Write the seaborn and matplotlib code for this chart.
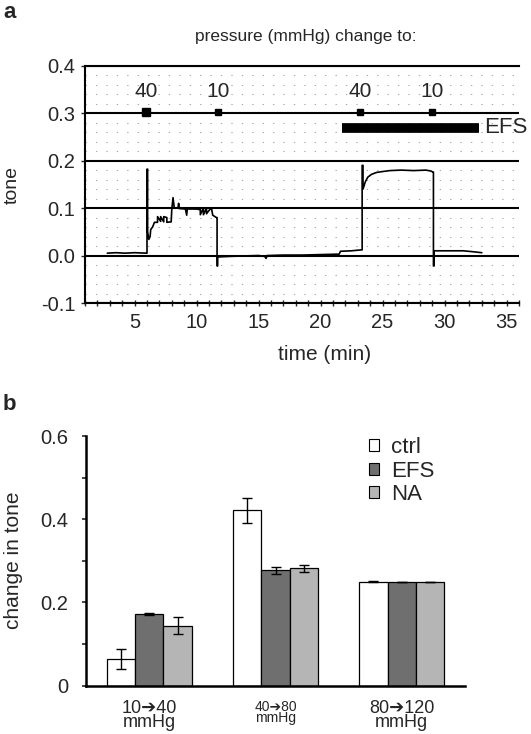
import numpy as np
import pandas as pd
import seaborn as sns
import matplotlib
matplotlib.use("Agg")
import matplotlib.pyplot as plt
from matplotlib.ticker import MultipleLocator, FixedLocator

# ---- panel a: tone trace ----
trace_time = [2.8, 3.5, 4.2, 5.0, 5.95, 6.0, 6.0, 6.05, 6.05, 6.15, 6.25, 6.3, 6.45, 6.6,
              6.85, 6.85, 7.1, 7.1, 7.35, 7.35, 7.6, 7.6,
              7.95, 8.0, 8.1, 8.2, 8.5, 8.55, 8.6, 9.1, 9.2, 9.25, 10.0, 10.2,
              10.3, 10.3, 10.55, 10.55, 10.8, 10.8, 11.0, 11.2, 11.3,
              11.6, 11.65, 11.65, 11.7, 11.7, 12.5, 13.5, 15.0, 15.5, 15.6, 15.7, 17.0, 18.5,
              20.0, 21.5, 21.6, 22.5, 23.3, 23.35, 23.35, 23.42, 23.42, 23.6, 23.8, 24.1, 24.5,
              25.0, 25.6, 26.5, 27.5, 28.5, 28.9, 29.05, 29.1, 29.1, 29.15, 29.15, 30.0, 31.5,
              32.3, 33.0]
trace_tone = [0.005, 0.006, 0.005, 0.006, 0.005, 0.005, 0.182, 0.182, 0.05, 0.034, 0.040, 0.055, 0.060, 0.070,
              0.070, 0.082, 0.072, 0.082, 0.071, 0.082, 0.080, 0.070,
              0.071, 0.098, 0.122, 0.100, 0.100, 0.110, 0.099, 0.098, 0.085, 0.098, 0.098, 0.097,
              0.100, 0.086, 0.100, 0.086, 0.100, 0.088, 0.095, 0.100, 0.085,
              0.080, 0.080, -0.022, -0.022, -0.003, -0.002, -0.001, 0.000, -0.002, -0.006, 0.000, 0.001, 0.001,
              0.002, 0.003, 0.009, 0.010, 0.012, 0.012, 0.190, 0.190, 0.140, 0.155, 0.165, 0.171, 0.175,
              0.177, 0.179, 0.180, 0.179, 0.180, 0.178, 0.176, 0.176, -0.022, -0.022, 0.010, 0.010, 0.010,
              0.008, 0.006]

pressure_time = [5.9, 11.7, 23.2, 29.0]
pressure_label = ["40", "10", "40", "10"]
pressure_marker_size = [5.5, 4, 4, 4]
efs_start, efs_end = 21.7, 32.8

# ---- panel b: bars ----
groups = ["10\u279440\nmmHg", "40\u279480\nmmHg", "80\u2794120\nmmHg"]
conditions = ["ctrl", "EFS", "NA"]
ctrl_vals = [0.064, 0.422, 0.250]
efs_vals = [0.173, 0.277, 0.250]
na_vals = [0.144, 0.282, 0.250]
ctrl_err = [0.023, 0.030, 0.001]
efs_err = [0.002, 0.008, 0.0]
na_err = [0.020, 0.008, 0.0]

sns.set_style("white")
plt.rcParams["font.family"] = ["Liberation Sans", "DejaVu Sans"]

fig = plt.figure(figsize=(5.31, 7.34), dpi=100)
W, H = 531, 734
ax_a = fig.add_axes([85 / W, 1 - 303 / H, (519 - 85) / W, (303 - 65.7) / H])
ax_b = fig.add_axes([86 / W, 1 - 685.7 / H, (465 - 86) / W, (685.7 - 436) / H])

# panel a
ax_a.set_xlim(1, 36)
ax_a.set_ylim(-0.1, 0.4)
ax_a.yaxis.set_major_locator(MultipleLocator(0.1))
ax_a.yaxis.set_minor_locator(MultipleLocator(0.02))
ax_a.xaxis.set_major_locator(MultipleLocator(5))
ax_a.xaxis.set_minor_locator(MultipleLocator(1))
ax_a.grid(which="minor", axis="y", color="#a8a8a8", linestyle=(0, (1.3, 8.7)), linewidth=0.75)
ax_a.grid(which="major", axis="y", color="black", linewidth=1.5)
ax_a.set_axisbelow(True)

sns.lineplot(x=trace_time, y=trace_tone, estimator=None, sort=False, color="black",
             linewidth=1.2, ax=ax_a)

for t, lab, ms in zip(pressure_time, pressure_label, pressure_marker_size):
    ax_a.plot(t, 0.302, marker="s", color="black", markersize=ms, linestyle="none", clip_on=False)
    ax_a.text(t, 0.345, lab, ha="center", va="center", fontsize=15)
ax_a.plot([efs_start, efs_end], [0.269, 0.269], color="black", linewidth=7, solid_capstyle="butt")
ax_a.text(efs_end + 0.4, 0.269, "EFS", ha="left", va="center", fontsize=16)

ax_a.spines["right"].set_visible(False)
for s in ["top", "left", "bottom"]:
    ax_a.spines[s].set_linewidth(1.5)
    ax_a.spines[s].set_color("black")
ax_a.tick_params(axis="x", which="both", direction="inout", length=5, width=1, labelsize=14.5,
                 bottom=True, pad=5)
ax_a.tick_params(axis="y", which="major", direction="out", length=3, width=1, labelsize=14.5,
                 left=True, pad=4)
ax_a.tick_params(axis="y", which="minor", left=False)
ax_a.set_yticks([0.4, 0.3, 0.2, 0.1, 0.0, -0.1])
ax_a.set_yticklabels(["0.4", "0.3", "0.2", "0.1", "0.0", "-0.1"])
ax_a.set_xlabel("")
ax_a.set_ylabel("")
fig.text(12 / W, 1 - 185 / H, "tone", rotation=90, ha="center", va="center", fontsize=14)
fig.text(325 / W, 1 - 355 / H, "time (min)", ha="center", va="center", fontsize=15)
fig.text(306 / W, 1 - 36 / H, "pressure (mmHg) change to:", ha="center", va="center", fontsize=12.5)
fig.text(3 / W, 1 - 12 / H, "a", ha="left", va="center", fontsize=16, fontweight="bold")
fig.text(3 / W, 1 - 404 / H, "b", ha="left", va="center", fontsize=16, fontweight="bold")

# panel b
df = pd.DataFrame({
    "group": groups * 3,
    "condition": [c for c in conditions for _ in groups],
    "value": ctrl_vals + efs_vals + na_vals,
})
errs = {"ctrl": ctrl_err, "EFS": efs_err, "NA": na_err}
palette = {"ctrl": "white", "EFS": "#6f6f6f", "NA": "#b5b5b5"}
sns.barplot(data=df, x="group", y="value", hue="condition", hue_order=conditions,
            order=groups, palette=palette, width=0.674, gap=0, edgecolor="black",
            linewidth=0.9, errorbar=None, ax=ax_b)
for cont, cond in zip(ax_b.containers, conditions):
    xs = [b.get_x() + b.get_width() / 2 for b in cont]
    ys = [b.get_height() for b in cont]
    ax_b.errorbar(xs, ys, yerr=errs[cond], fmt="none", ecolor="black", elinewidth=1,
                  capsize=3.5, capthick=1)

ax_b.set_xlim(-0.5, 2.5)
ax_b.set_ylim(0, 0.6)
ax_b.yaxis.set_major_locator(FixedLocator([0, 0.1, 0.2, 0.3, 0.4, 0.5, 0.6]))
ax_b.set_yticklabels(["0", "", "0.2", "", "0.4", "", "0.6"])
ax_b.tick_params(axis="y", direction="out", length=3, width=1.2, labelsize=14.5, left=True, pad=10)
ax_b.tick_params(axis="x", length=0, pad=10)
for s in ["top", "right"]:
    ax_b.spines[s].set_visible(False)
for s in ["left", "bottom"]:
    ax_b.spines[s].set_linewidth(1.8)
    ax_b.spines[s].set_color("black")
ax_b.set_xlabel("")
ax_b.set_ylabel("")
fig.text(14 / W, 1 - 560 / H, "change in tone", rotation=90, ha="center", va="center", fontsize=15)
for lbl, fs in zip(ax_b.get_xticklabels(), [13, 10, 13]):
    lbl.set_fontsize(fs)
    lbl.set_linespacing(0.8)

leg = ax_b.legend(frameon=False, fontsize=16, handlelength=0.45, handleheight=0.45,
                  handletextpad=0.55, labelspacing=0.12, borderpad=0, borderaxespad=0,
                  loc="upper left", bbox_to_anchor=(369 / W, 1 - 437 / H),
                  bbox_transform=fig.transFigure)
for h in leg.legend_handles:
    h.set_edgecolor("black")
    h.set_linewidth(0.8)

fig.savefig("out.png", dpi=100)
